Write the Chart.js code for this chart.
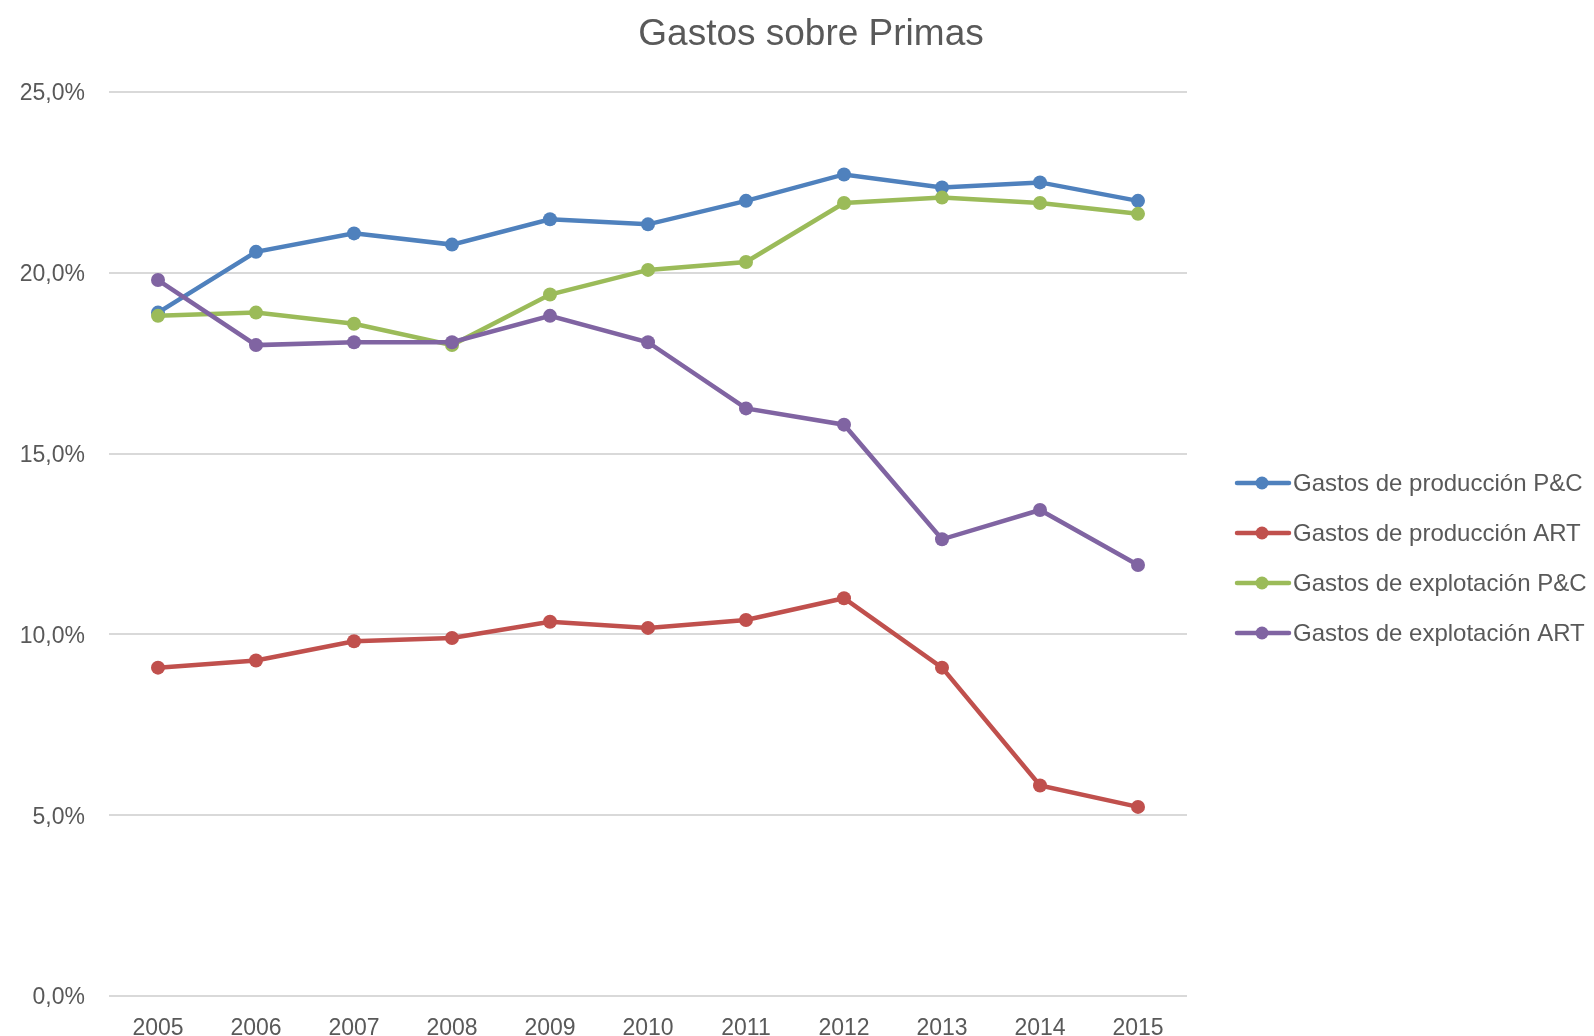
<!DOCTYPE html>
<html>
<head>
<meta charset="utf-8">
<script src="https://cdn.jsdelivr.net/npm/chart.js@4/dist/chart.umd.min.js"></script>
<style>
	html, body { margin: 0; padding: 0; background: #fff; }
	#wrap { width: 1594px; height: 1036px; }
</style>
</head>
<body>
<div id="wrap"><canvas id="gastos" width="1594" height="1036"></canvas></div>
<script>
const years = ['2005', '2006', '2007', '2008', '2009', '2010', '2011', '2012', '2013', '2014', '2015'];
const produccionPC = [18.9, 20.58, 21.09, 20.78, 21.48, 21.34, 21.99, 22.72, 22.36, 22.5, 21.99];
const produccionART = [9.08, 9.28, 9.81, 9.9, 10.35, 10.18, 10.4, 11.0, 9.08, 5.82, 5.23];
const explotacionPC = [18.81, 18.9, 18.59, 18.0, 19.4, 20.08, 20.3, 21.93, 22.08, 21.93, 21.63];
const explotacionART = [19.8, 18.0, 18.08, 18.08, 18.81, 18.08, 16.25, 15.8, 12.63, 13.44, 11.92];
const seriesNames = ['Gastos de producción P&C', 'Gastos de producción ART', 'Gastos de explotación P&C', 'Gastos de explotación ART'];
const seriesColors = ['#4F81BD', '#C0504D', '#9BBB59', '#8064A2'];

const FONT = '"Liberation Sans", Arial, Helvetica, sans-serif';
const TEXT = '#595959';

// title + legend drawn by hand so they sit where the original has them
const sideParts = {
	id: 'sideParts',
	afterDraw(chart) {
		const ctx = chart.ctx;
		ctx.save();
		ctx.fillStyle = TEXT;
		ctx.font = '37px ' + FONT;
		ctx.textAlign = 'center';
		ctx.textBaseline = 'alphabetic';
		ctx.fillText('Gastos sobre Primas', 811, 45);

		ctx.font = '24px ' + FONT;
		ctx.textAlign = 'left';
		ctx.textBaseline = 'middle';
		chart.data.datasets.forEach((ds, i) => {
			const y = 483 + i * 50;
			ctx.strokeStyle = ds.borderColor;
			ctx.lineWidth = 4.5;
			ctx.lineCap = 'round';
			ctx.beginPath();
			ctx.moveTo(1237, y);
			ctx.lineTo(1289, y);
			ctx.stroke();
			ctx.fillStyle = ds.borderColor;
			ctx.beginPath();
			ctx.arc(1262, y, 6.5, 0, Math.PI * 2);
			ctx.fill();
			ctx.fillStyle = TEXT;
			ctx.fillText(ds.label, 1293, y + 1);
		});
		ctx.restore();
	}
};

const values = [produccionPC, produccionART, explotacionPC, explotacionART];

new Chart(document.getElementById('gastos').getContext('2d'), {
	type: 'line',
	data: {
		labels: years,
		datasets: values.map((v, i) => ({
			label: seriesNames[i],
			data: v,
			borderColor: seriesColors[i],
			backgroundColor: seriesColors[i],
			borderWidth: 4.5,
			pointRadius: 7,
			pointBorderWidth: 0,
			pointHoverRadius: 7,
			tension: 0,
			fill: false,
			order: 3 - i,
		})),
	},
	options: {
		responsive: false,
		animation: false,
		layout: { padding: { top: 92, right: 407, bottom: 0, left: 0 } },
		plugins: {
			legend: { display: false },
			title: { display: false },
			tooltip: { enabled: false },
		},
		scales: {
			x: {
				offset: true,
				grid: { display: false, drawTicks: false },
				border: { display: false },
				ticks: { color: TEXT, font: { family: FONT, size: 23 }, padding: 19, maxRotation: 0 },
				afterFit: (s) => { s.height = 40; },
			},
			y: {
				min: 0,
				max: 25,
				grid: { color: '#D9D9D9', lineWidth: 2, drawTicks: false },
				border: { display: false },
				ticks: {
					stepSize: 5,
					color: TEXT,
					font: { family: FONT, size: 23 },
					padding: 24,
					labelOffset: 2,
					callback: (v) => v.toFixed(1).replace('.', ',') + '%',
				},
				afterFit: (s) => { s.width = 109; },
			},
		},
	},
	plugins: [sideParts],
});
</script>
</body>
</html>
